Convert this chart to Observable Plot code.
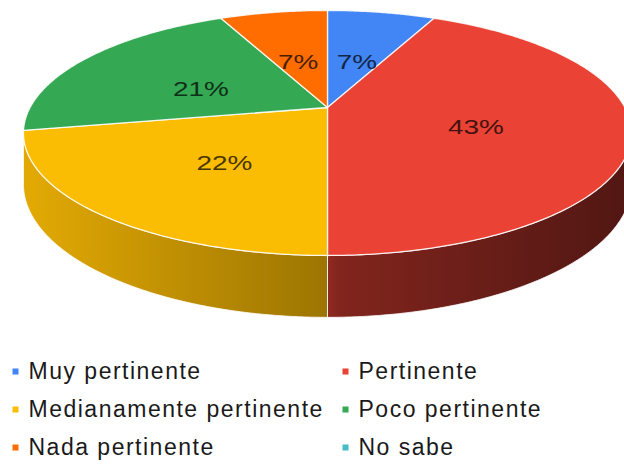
<!DOCTYPE html>
<html><head><meta charset="utf-8">
<script src="https://cdn.jsdelivr.net/npm/d3@7"></script>
<script src="https://cdn.jsdelivr.net/npm/@observablehq/plot@0.6"></script>
<style>html,body{margin:0;padding:0;background:#fff;overflow:hidden}svg{overflow:hidden}</style>
</head><body><div id="chart"></div>
<script>
// ---- data ----
const categories = ["Muy pertinente", "Pertinente", "Medianamente pertinente", "Poco pertinente", "Nada pertinente", "No sabe"];
const values = [7, 43, 22, 21, 7, 0];
const colors = ["#4285f4", "#ea4335", "#fbbc04", "#34a853", "#ff6d01", "#46bdc6"];

// ---- layout ----
const W = 624, H = 464;
const cx = 327, cy = 107, a = 297.4, b = 117.2, k = 0.208, depth = 49;
const labelR = 0.5, labelShift = 7;
const legendX = [15, 345], legendY0 = 371, rowGap = 38, legendTextDx = 13;

function proj(r, t) {
  const u = r * Math.sin(t), v = r * Math.cos(t), w = 1 + k * v;
  return {x: cx + a * u / w, y: cy - b * v / w, w};
}

const total = d3.sum(values);
let acc = 0;
const slices = categories.map((c, i) => {
  const t0 = acc / total * 2 * Math.PI; acc += values[i];
  const t1 = acc / total * 2 * Math.PI;
  return {cat: c, i, value: values[i], t0, t1};
}).filter(s => s.value > 0);

const step = Math.PI / 360;
function arc(t0, t1) {
  const n = Math.max(2, Math.ceil(Math.abs(t1 - t0) / step));
  return d3.range(n + 1).map(j => t0 + (t1 - t0) * j / n);
}

const topPts = [];
for (const s of slices) {
  const c = proj(0, 0);
  topPts.push({cat: s.cat, x: c.x, y: c.y});
  for (const t of arc(s.t0, s.t1)) { const p = proj(1, t); topPts.push({cat: s.cat, x: p.x, y: p.y}); }
  topPts.push({cat: s.cat, x: c.x, y: c.y});
}

const tv0 = Math.acos(-k), tv1 = 2 * Math.PI - Math.acos(-k);
const walls = [];
for (const s of slices) {
  const lo = Math.max(s.t0, tv0), hi = Math.min(s.t1, tv1);
  if (hi <= lo) continue;
  const pts = [];
  for (const t of arc(lo, hi)) { const p = proj(1, t); pts.push({x: p.x, y: p.y}); }
  for (const t of arc(hi, lo)) { const p = proj(1, t); pts.push({x: p.x, y: p.y + depth / p.w}); }
  pts.push(pts[0]);
  walls.push({s, pts});
}

const labels = slices.map(s => {
  const p = proj(labelR, (s.t0 + s.t1) / 2);
  return {cat: s.cat, i: s.i, x: p.x, y: p.y + labelShift, text: Math.round(s.value / total * 100) + "%"};
});

const legend = categories.map((c, i) => ({cat: c, col: i % 2, row: Math.floor(i / 2)}));

const font = "'Liberation Sans', Arial, sans-serif";

const svg = Plot.plot({
  width: W, height: H,
  margin: 0, marginTop: 0, marginRight: 0, marginBottom: 0, marginLeft: 0,
  x: {domain: [0, W], range: [0, W], axis: null},
  y: {domain: [0, H], range: [0, H], axis: null},
  color: {domain: categories, range: colors},
  style: {background: "#fff", fontFamily: font},
  marks: [
    ...walls.map(wl => Plot.line(wl.pts, {x: "x", y: "y", fill: `url(#wall-${wl.s.i})`, stroke: "#fff", strokeWidth: 1, strokeOpacity: 0.8})),
    Plot.line(topPts, {x: "x", y: "y", z: "cat", fill: "cat", stroke: "#fff", strokeWidth: 1.3, strokeOpacity: 0.85, strokeLinejoin: "round"}),
    ...labels.map(l => Plot.text([l], {x: "x", y: "y", text: "text", fill: d3.color(colors[l.i]).darker(3.5).formatHex(), fontSize: 21, fontFamily: font, textAnchor: "middle", lineAnchor: "middle"})),
    Plot.dot(legend, {x: d => legendX[d.col], y: d => legendY0 + d.row * rowGap, fill: "cat", symbol: "square", r: 3.4, stroke: null}),
    Plot.text(legend, {x: d => legendX[d.col] + legendTextDx, y: d => legendY0 + d.row * rowGap, text: "cat", fill: "#1a1a1a", fontSize: 23, fontFamily: font, textAnchor: "start", lineAnchor: "middle"})
  ]
});

// gradients for the side walls
const defs = d3.select(svg).insert("defs", ":first-child");
for (const s of slices) {
  const g = defs.append("linearGradient").attr("id", `wall-${s.i}`).attr("gradientUnits", "userSpaceOnUse")
    .attr("x1", cx - a).attr("x2", cx + a).attr("y1", 0).attr("y2", 0);
  const base = d3.rgb(colors[s.i]);
  [[0, 0.9], [0.5, 0.62], [0.52, 0.55], [1, 0.35]].forEach(([o, f]) => {
    g.append("stop").attr("offset", o).attr("stop-color", d3.rgb(base.r * f, base.g * f, base.b * f).formatHex());
  });
}

// horizontal stretch of pie labels, letter spacing of legend
const textGroups = svg.querySelectorAll('g[aria-label="text"]');
textGroups.forEach((g, gi) => {
  const isLegend = gi === textGroups.length - 1;
  g.querySelectorAll("text").forEach(t => {
    if (isLegend) { t.style.letterSpacing = "1.5px"; return; }
    let tr = t.getAttribute("transform");
    if (!tr) {
      const x = +t.getAttribute("x") || 0, y = +t.getAttribute("y") || 0;
      t.removeAttribute("x"); t.removeAttribute("y");
      tr = `translate(${x},${y})`;
    }
    t.setAttribute("transform", tr + " scale(1.33,1)");
  });
});

document.getElementById("chart").appendChild(svg);
</script>
</body></html>
